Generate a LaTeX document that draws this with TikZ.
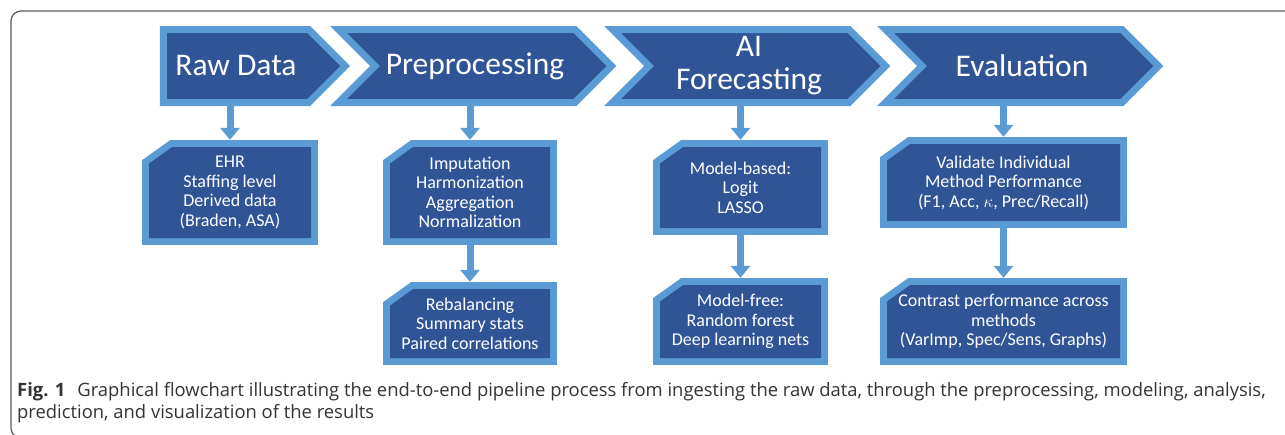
\documentclass[tikz,border=0pt]{standalone}
\usepackage{fontspec}
\setmainfont{Carlito}
\newfontfamily\capfont{Open Sans}
\usetikzlibrary{arrows.meta,shapes.symbols}
\definecolor{blue1}{HTML}{5B9BD5}
\definecolor{blue2}{HTML}{2F5597}
\definecolor{frame1}{HTML}{5A5A5A}
\definecolor{gray1}{HTML}{333333}

\begin{document}
\begin{tikzpicture}[
      x=1pt, y=-1pt,
      stage/.style={signal, signal to=east, signal from=west, signal pointer angle=90,
        draw=blue1, fill=blue2, line width=7pt, minimum height=73pt, minimum width=273pt,
        text=white, font=\fontsize{31.5}{33}\selectfont, align=center, inner sep=0pt},
      task/.style={rectangle, fill=blue1, text=white, inner sep=0pt,
        font=\fontsize{18}{19.5}\selectfont, align=center,
        path picture={
          \fill[white] (path picture bounding box.north west) -- ++(28,0) -- ++(-28,20) -- cycle;
          \fill[blue2] ([shift={(30.2,7)}]path picture bounding box.north west)
            -| ([shift={(-7,-7)}]path picture bounding box.south east)
            -| ([shift={(7,23.6)}]path picture bounding box.north west) -- cycle;
        }},
      flow/.style={draw=blue1, line width=7pt, -{Triangle[width=19pt,length=12pt]}},
      figcap/.style={font=\capfont\fontsize{18.4}{22}\selectfont, text=gray1, anchor=base west, inner sep=0pt}
  ]
    \useasboundingbox (0,0) rectangle (1285,434);
    \begin{scope}
    \clip (0,0) rectangle (1285,434);
    \draw[frame1, line width=1.2pt, rounded corners=10pt] (11,11) rectangle (1310,438);
    \end{scope}

    \node[stage, signal from=nowhere, minimum width=182pt] (raw) at (236,66) {Raw Data};
    \node[stage] (prep) at (475,66) {Preprocessing};
    \node[stage] (fcst) at (749,66) {AI\\Forecasting};
    \node[stage] (eval) at (1022,66) {Evaluation};

    \node[task, minimum width=176pt, minimum height=105pt] (rawbox) at (230,192.5)
      {EHR\\Staffing level\\Derived data\\(Braden, ASA)};
    \node[task, minimum width=174pt, minimum height=105pt] (prepa) at (470,192.5)
      {Imputation\\Harmonization\\Aggregation\\Normalization};
    \node[task, minimum width=174pt, minimum height=83pt] (prepb) at (470,323.5)
      {Rebalancing\\Summary stats\\Paired correlations};
    \node[task, minimum width=175pt, minimum height=95pt] (fcsta) at (740.5,187.5)
      {Model-based:\\Logit\\LASSO};
    \node[task, minimum width=175pt, minimum height=87pt] (fcstb) at (740.5,321.5)
      {Model-free:\\Random forest\\Deep learning nets};
    \node[task, minimum width=247pt, minimum height=91pt] (evala) at (1003.5,182.5)
      {Validate Individual\\Method Performance\\(F1, Acc, $\kappa$, Prec/Recall)};
    \node[task, minimum width=247pt, minimum height=87pt] (evalb) at (1003.5,321.5)
      {Contrast performance across\\methods\\(VarImp, Spec/Sens, Graphs)};

    \draw[flow] (raw.south -| rawbox.north) -- (rawbox.north);
    \draw[flow] (prep.south -| prepa.north) -- (prepa.north);
    \draw[flow] (prepa) -- (prepb);
    \draw[flow] (fcst.south -| fcsta.north) -- (fcsta.north);
    \draw[flow] (fcsta) -- (fcstb);
    \draw[flow] (eval.south -| evala.north) -- (evala.north);
    \draw[flow] (evala) -- (evalb);

    \node[figcap] (cap1) at (17,396.5) {\textbf{Fig. 1}\hspace{12pt}Graphical flowchart illustrating the end-to-end pipeline process from ingesting the raw data, through the preprocessing, modeling, analysis,};
    \node[figcap] (cap2) at (17,418) {prediction, and visualization of the results};
  \end{tikzpicture}
\end{document}
